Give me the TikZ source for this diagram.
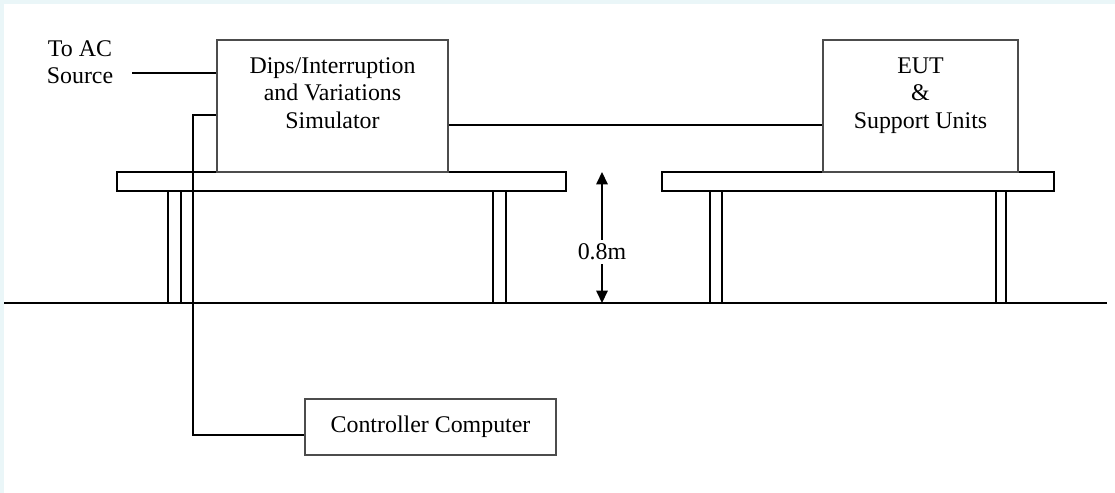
\documentclass[tikz,border=0pt]{standalone}
\usepackage{fontspec}
\setmainfont{Liberation Serif}
\usepackage{tikz}
\usetikzlibrary{positioning,arrows.meta}
\definecolor{edgecyan}{HTML}{EAF6F8}

\begin{document}
\begin{tikzpicture}[x=0.02cm,y=-0.02cm,
      box/.style={draw=black!70,line width=0.9pt,fill=white,inner sep=0pt},
      txt/.style={align=center,inner sep=0pt,font=\fontsize{13.6}{15.6}\selectfont},
      ln/.style={line width=0.8pt},
      dim/.style={line width=0.8pt,{Triangle[width=6.5pt,length=7pt]}-{Triangle[width=6.5pt,length=7pt]}}]
    \useasboundingbox (0,0) rectangle (1115,493);
    \fill[edgecyan] (0,0) rectangle (1115,493);
    \fill[white] (4,4) rectangle (1115,493);
    % tables
    \foreach \xa/\xb in {117/566,662/1054} { \draw[ln] (\xa,172) rectangle (\xb,191); }
    \foreach \xa/\xb in {168/181,493/506,710/722,996/1006} { \draw[ln] (\xa,303) -- (\xa,191) (\xb,191) -- (\xb,303); }
    \coordinate (g1) at (4,303);
    \coordinate (g2) at (1107,303);
    \draw[ln] (g1) -- (g2);
    % units
    \node[box,minimum width=4.62cm,minimum height=2.64cm] (sim) at (332.5,106) {};
    \node[txt,below=0.36cm of sim.north] (simtxt) {Dips/Interruption\\and Variations\\Simulator};
    \node[box,minimum width=3.9cm,minimum height=2.64cm] (eut) at (920.5,106) {};
    \node[txt,below=0.36cm of eut.north] (euttxt) {EUT\\\&\\Support Units};
    \node[box,txt,minimum width=5.02cm,minimum height=1.12cm] (ctrl) at (430.5,427) {Controller Computer};
    \node[txt] (ac) at (80,62) {To AC\\Source};
    % cables
    \coordinate (acend) at (132,73);
    \coordinate (cbl) at (193,115);
    \draw[ln] (acend) -- (acend -| sim.west);
    \draw[ln] (cbl -| sim.west) -- (cbl) |- ([yshift=-0.16cm]ctrl.west);
    \draw[ln] ([yshift=-0.38cm]sim.east) -- ([yshift=-0.38cm]eut.west);
    % height
    \coordinate (dtop) at (602,172);
    \coordinate (dbot) at (602,303);
    \draw[dim] (dtop) -- (dbot) node[pos=0.61,fill=white,txt,inner sep=2pt] (dimlbl) {0.8m};
\end{tikzpicture}
\end{document}
